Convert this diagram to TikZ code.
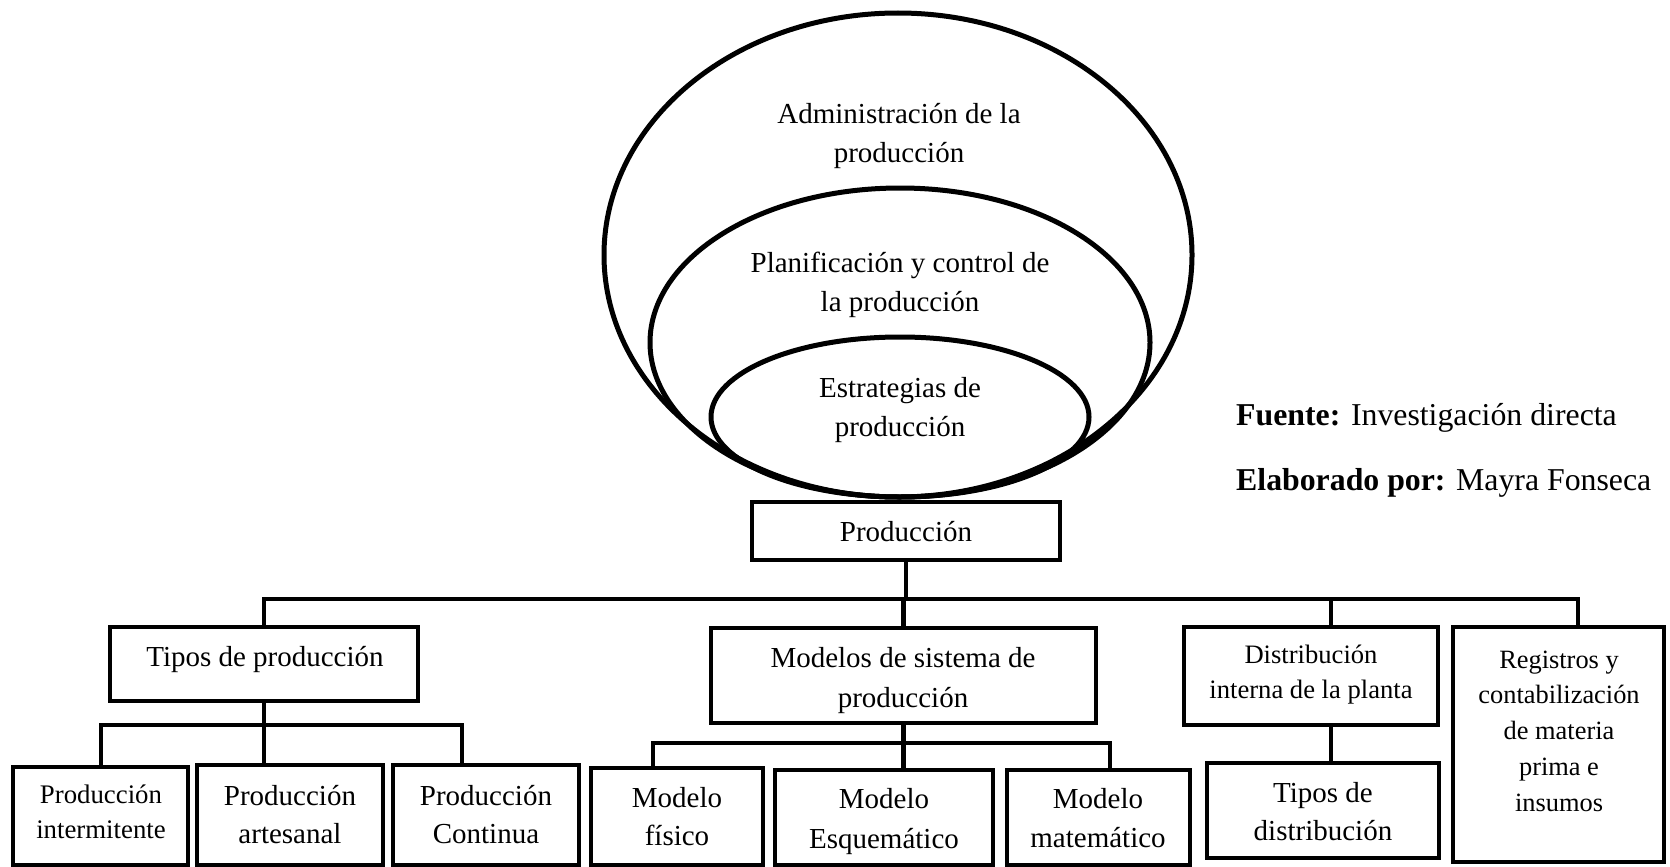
\documentclass[tikz,border=0pt]{standalone}
\usepackage{fontspec}
\setmainfont{Liberation Serif}
\usetikzlibrary{shapes.geometric}

% multi-line centred text whose baseline is that of the first line
\newcommand\ml[1]{\begin{tabular}[t]{@{}c@{}}#1\end{tabular}}

\tikzset{
  box/.style={draw, line width=4.8pt, inner sep=0pt},
  ring/.style={draw, ellipse, line width=5pt, inner sep=0pt},
  conn/.style={line width=4.8pt},
  txt/.style={inner sep=0pt, anchor=base},
  big/.style={font=\fontsize{29}{38}\selectfont},
  small/.style={font=\fontsize{26.6}{35.5}\selectfont},
  note/.style={inner sep=0pt, anchor=base west, font=\fontsize{31.8}{38}\selectfont},
}

% box from its corner coordinates: name, x1, y1, x2, y2
\newcommand\bx[5]{\node[box, minimum width={#4-#2}, minimum height={#5-#3}]
  (#1) at ({(#2+#4)/2},{(#3+#5)/2}) {};}

\begin{document}
\begin{tikzpicture}[x=1pt, y=-1pt]
\useasboundingbox (0,0) rectangle (1670,867);

% nested ellipses
\node[ring, minimum width=588, minimum height=484] (admin) at (898,255) {};
\node[ring, minimum width=500, minimum height=309] (plan) at (900,342.5) {};
\node[ring, minimum width=378, minimum height=160] (estr) at (900,417) {};

\node[txt, big, font=\fontsize{29}{39}\selectfont] (admin-t) at (899,123) {\ml{Administración de la\\producción}};
\node[txt, big, font=\fontsize{29}{39}\selectfont] (plan-t) at (900,272) {\ml{Planificación y control de\\la producción}};
\node[txt, big, font=\fontsize{29}{39}\selectfont] (estr-t) at (900,397) {\ml{Estrategias de\\producción}};

% boxes
\bx{prod}{752}{502}{1060}{560}
\bx{tipos}{110}{627}{418}{701}
\bx{modelos}{711}{628}{1096}{723}
\bx{dist}{1184}{627}{1438}{725}
\bx{reg}{1453}{627}{1664}{862}
\bx{pint}{13}{767}{188}{865}
\bx{part}{197}{765}{383}{865}
\bx{pcont}{393}{765}{579}{865}
\bx{mfis}{591}{768}{763}{865}
\bx{mesq}{775}{770}{993}{865}
\bx{mmat}{1007}{770}{1190}{865}
\bx{tdist}{1207}{763}{1439}{858}

% box texts
\node[txt, big] (prod-t) at (906,541) {Producción};
\node[txt, big] (tipos-t) at (265,666) {Tipos de producción};
\node[txt, big, font=\fontsize{29}{40}\selectfont] (modelos-t) at (903,667) {\ml{Modelos de sistema de\\producción}};
\node[txt, small] (dist-t) at (1311,663) {\ml{Distribución\\interna de la planta}};
\node[txt, small, font=\fontsize{26.4}{35.8}\selectfont] (reg-t) at (1559,668) {\ml{Registros y\\contabilización\\de materia\\prima e\\insumos}};
\node[txt, small, font=\fontsize{26.8}{35}\selectfont] (pint-t) at (101,803) {\ml{Producción\\intermitente}};
\node[txt, big] (part-t) at (290,805) {\ml{Producción\\artesanal}};
\node[txt, big] (pcont-t) at (486,805) {\ml{Producción\\Continua}};
\node[txt, big] (mfis-t) at (677,807) {\ml{Modelo\\físico}};
\node[txt, big, font=\fontsize{29}{40}\selectfont] (mesq-t) at (884,808) {\ml{Modelo\\Esquemático}};
\node[txt, big, font=\fontsize{29}{39}\selectfont] (mmat-t) at (1098,808) {\ml{Modelo\\matemático}};
\node[txt, big] (tdist-t) at (1323,802) {\ml{Tipos de\\distribución}};

% source notes
\node[note] (fuente) at (1236,425) {\textbf{Fuente:} Investigación directa};
\node[note] (elab) at (1236,490) {\textbf{Elaborado por:} Mayra Fonseca};

% main bus
\coordinate (bL) at (265,599);
\coordinate (bR) at (1578,599);
\coordinate (dj) at (1331,599);
\draw[conn] (tipos.north) |- (bR) -- (bR |- reg.north);
\draw[conn] (prod.south) -- (prod.south |- bL);
\draw[conn] (modelos.north) -- (modelos.north |- bL);
\draw[conn] (dj) -- (dj |- dist.north);
\draw[conn] (dj |- dist.south) -- (dj |- tdist.north);

% branch under "Tipos de producción"
\coordinate (t1) at (101,725);
\coordinate (t3) at (462,725);
\draw[conn] (t1 |- pint.north) -- (t1) -- (t3) -- (t3 |- pcont.north);
\draw[conn] (tipos.south) -- (tipos.south |- part.north);

% branch under "Modelos de sistema de producción"
\coordinate (m1) at (653,743);
\coordinate (m3) at (1110,743);
\draw[conn] (m1 |- mfis.north) -- (m1) -- (m3) -- (m3 |- mmat.north);
\draw[conn] (modelos.south) -- (modelos.south |- mesq.north);
\end{tikzpicture}
\end{document}
